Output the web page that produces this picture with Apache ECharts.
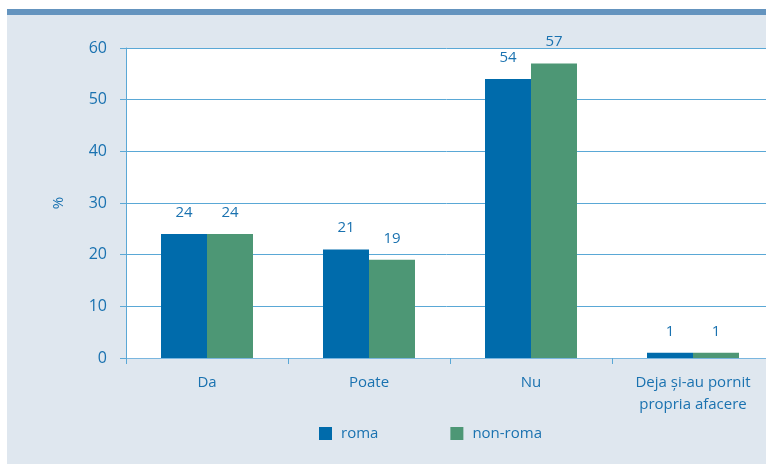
<!DOCTYPE html>
<html>
<head>
<meta charset="utf-8">
<script src="https://cdn.jsdelivr.net/npm/echarts@6/dist/echarts.min.js"></script>
<style>
  html, body { margin: 0; padding: 0; background: #ffffff; }
  #chart { width: 766px; height: 464px; }
</style>
</head>
<body>
<div id="chart"></div>
<script>
// Category names along the x axis
const categories = ['Da', 'Poate', 'Nu', 'Deja și-au pornit\npropria afacere'];
// Share of respondents (%) per group
const romaValues = [24, 21, 54, 1];
const nonRomaValues = [24, 19, 57, 1];
const seriesNames = ['roma', 'non-roma'];
// Value axis range
const yMin = 0, yMax = 60, yStep = 10;

const textColor = '#1a72b0';
const gridColor = '#5aa8d6';
const font = '"Open Sans", "Noto Sans", sans-serif';

const chart = echarts.init(document.getElementById('chart'), null, { renderer: 'canvas' });

chart.setOption({
  animation: false,
  textStyle: { fontFamily: font },
  graphic: [
    { type: 'rect', z: -10, shape: { x: 7, y: 9, width: 766, height: 464 }, style: { fill: '#dfe7ef' } },
    { type: 'rect', z: -9, shape: { x: 7, y: 9, width: 766, height: 6 }, style: { fill: '#6494bf' } }
  ],
  // plot area runs slightly past the right edge of the canvas
  grid: {
    left: 126, top: 48, bottom: 106, width: 648,
    outerBoundsMode: 'none', containLabel: false,
    backgroundColor: '#ffffff', show: true, borderWidth: 0
  },
  legend: {
    data: seriesNames,
    top: 426,
    left: 319,
    padding: 0,
    itemWidth: 13,
    itemHeight: 13,
    itemGap: 72,
    icon: 'rect',
    textStyle: { color: textColor, fontSize: 15, fontFamily: font, padding: [0, 0, 0, 4] }
  },
  xAxis: {
    type: 'category',
    data: categories,
    axisLine: { show: true, lineStyle: { color: '#7ab6df', width: 1 } },
    axisTick: { show: true, length: 6, lineStyle: { color: gridColor } },
    axisLabel: { color: textColor, fontSize: 15, margin: 14, lineHeight: 22, fontFamily: font }
  },
  yAxis: {
    type: 'value',
    min: yMin, max: yMax, interval: yStep,
    name: '%',
    nameLocation: 'middle',
    nameGap: 60,
    nameRotate: 90,
    nameTextStyle: { color: textColor, fontSize: 15, fontFamily: font },
    axisLine: { show: true, lineStyle: { color: gridColor, width: 1 } },
    axisTick: { show: true, length: 6, lineStyle: { color: gridColor } },
    axisLabel: { color: textColor, fontSize: 16, margin: 19, fontFamily: font },
    splitLine: { show: true, lineStyle: { color: gridColor, width: 1 } }
  },
  series: [
    {
      name: seriesNames[0],
      type: 'bar',
      data: romaValues,
      barWidth: 46,
      barGap: '0%',
      itemStyle: { color: '#006bab' },
      label: { show: true, position: 'top', distance: 14, color: textColor, fontSize: 15, fontFamily: font }
    },
    {
      name: seriesNames[1],
      type: 'bar',
      data: nonRomaValues,
      barWidth: 46,
      barGap: '0%',
      itemStyle: { color: '#4d9775' },
      label: { show: true, position: 'top', distance: 14, color: textColor, fontSize: 15, fontFamily: font }
    }
  ]
});
</script>
</body>
</html>
